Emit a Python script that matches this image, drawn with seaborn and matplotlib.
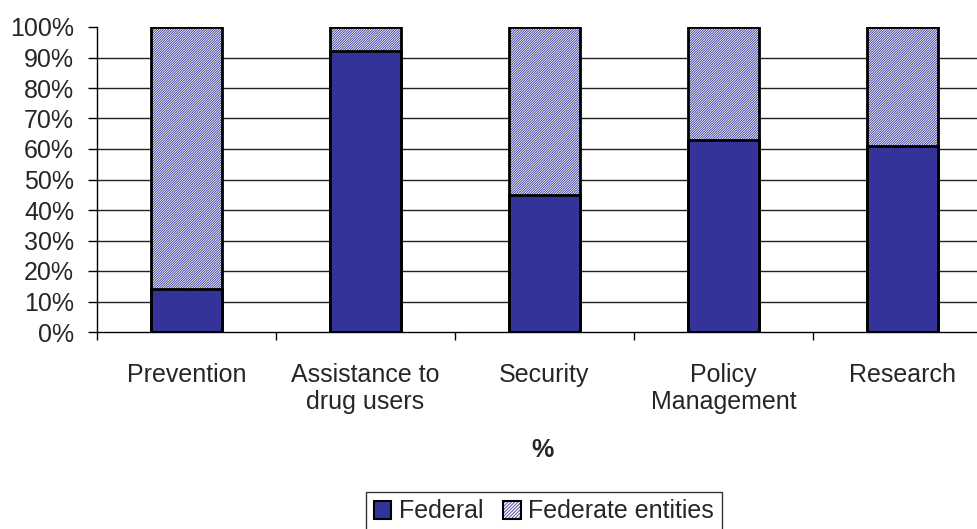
import matplotlib
matplotlib.use("Agg")
import matplotlib.pyplot as plt
from matplotlib.patches import Patch
from matplotlib.legend_handler import HandlerTuple
from matplotlib.ticker import FixedLocator, PercentFormatter
import seaborn as sns
import pandas as pd

categories = ["Prevention", "Assistance to\ndrug users", "Security",
              "Policy\nManagement", "Research"]
federal = [14, 92, 45, 63, 61]
federate_entities = [86, 8, 55, 37, 39]
series_names = ["Federal", "Federate entities"]
y_ticks = [0, 10, 20, 30, 40, 50, 60, 70, 80, 90, 100]

NAVY = "#333399"
HATCH = "/" * 14

sns.set_theme(style="white")
plt.rcParams["font.family"] = ["Liberation Sans", "DejaVu Sans"]
plt.rcParams["hatch.linewidth"] = 0.6

df = pd.DataFrame({"category": categories, "federal": federal,
                   "federate": federate_entities})
df["total"] = df["federal"] + df["federate"]

fig = plt.figure(figsize=(9.77, 5.29), dpi=100)
ax = fig.add_axes([97 / 977, (529 - 332) / 529, 895 / 977, 305 / 529])

# horizontal gridlines behind the bars
for v in y_ticks[1:-1]:
    ax.axhline(v, color="#222222", lw=1.0, zorder=0)

# hatched share for the federate entities (full stacked height)
sns.barplot(data=df, x="category", y="total", color="white", width=0.4,
            saturation=1, linewidth=0, edgecolor=NAVY, ax=ax, zorder=2)
for p in ax.patches:
    p.set_hatch(HATCH)
    p.set_edgecolor(NAVY)
    p.set_linewidth(0)
n_hatch = len(ax.patches)

# solid federal share
sns.barplot(data=df, x="category", y="federal", color=NAVY, width=0.4,
            saturation=1, linewidth=2.0, edgecolor="black", ax=ax, zorder=3)

# outline of each stacked column
sns.barplot(data=df, x="category", y="total", color="white", width=0.4,
            saturation=1, fill=False, linewidth=2.0, ax=ax, zorder=4)
for p in ax.patches[n_hatch + len(df):]:
    p.set_edgecolor("black")
    p.set_facecolor("none")

ax.set_ylim(0, 100)
ax.set_xlim(-0.5, len(categories) - 0.5)
ax.set_yticks(y_ticks)
ax.yaxis.set_major_formatter(PercentFormatter(decimals=0))
ax.set_ylabel("")

for s in ["top", "right"]:
    ax.spines[s].set_visible(False)
for s in ["left", "bottom"]:
    ax.spines[s].set_visible(True)
    ax.spines[s].set_color("black")
    ax.spines[s].set_linewidth(1.0)

ax.tick_params(axis="y", which="major", left=True, length=6.5, width=1,
               color="black", labelsize=18, pad=10)
ax.tick_params(axis="x", which="major", bottom=False, length=0,
               labelsize=18, pad=22)
ax.xaxis.set_minor_locator(FixedLocator([i - 0.5 for i in range(len(categories) + 1)]))
ax.tick_params(axis="x", which="minor", bottom=True, length=6, width=1,
               color="black")
for lbl in ax.get_xticklabels():
    lbl.set_linespacing(1.2)

ax.set_xlabel("%", fontsize=18, fontweight="bold")
ax.xaxis.set_label_coords((543 - 97) / 895, (332 - 450) / 305)
ax.xaxis.label.set_va("center")

h_fed = Patch(facecolor=NAVY, edgecolor="black", linewidth=1.5)
h_ent = (Patch(facecolor="white", edgecolor=NAVY, hatch="/" * 10, linewidth=0),
         Patch(facecolor="none", edgecolor="black", linewidth=1.5))
leg = fig.legend([h_fed, h_ent], series_names,
                 handler_map={tuple: HandlerTuple(ndivide=1, pad=0)},
                 loc="upper center", bbox_to_anchor=(544 / 977, (529 - 492) / 529),
                 ncol=2, fontsize=18, frameon=True, fancybox=False,
                 handlelength=0.7, handleheight=0.7, handletextpad=0.3,
                 columnspacing=0.8, borderpad=0.3, borderaxespad=0)
leg.get_frame().set_edgecolor("black")
leg.get_frame().set_linewidth(1.0)

fig.savefig("out.png", dpi=100)
